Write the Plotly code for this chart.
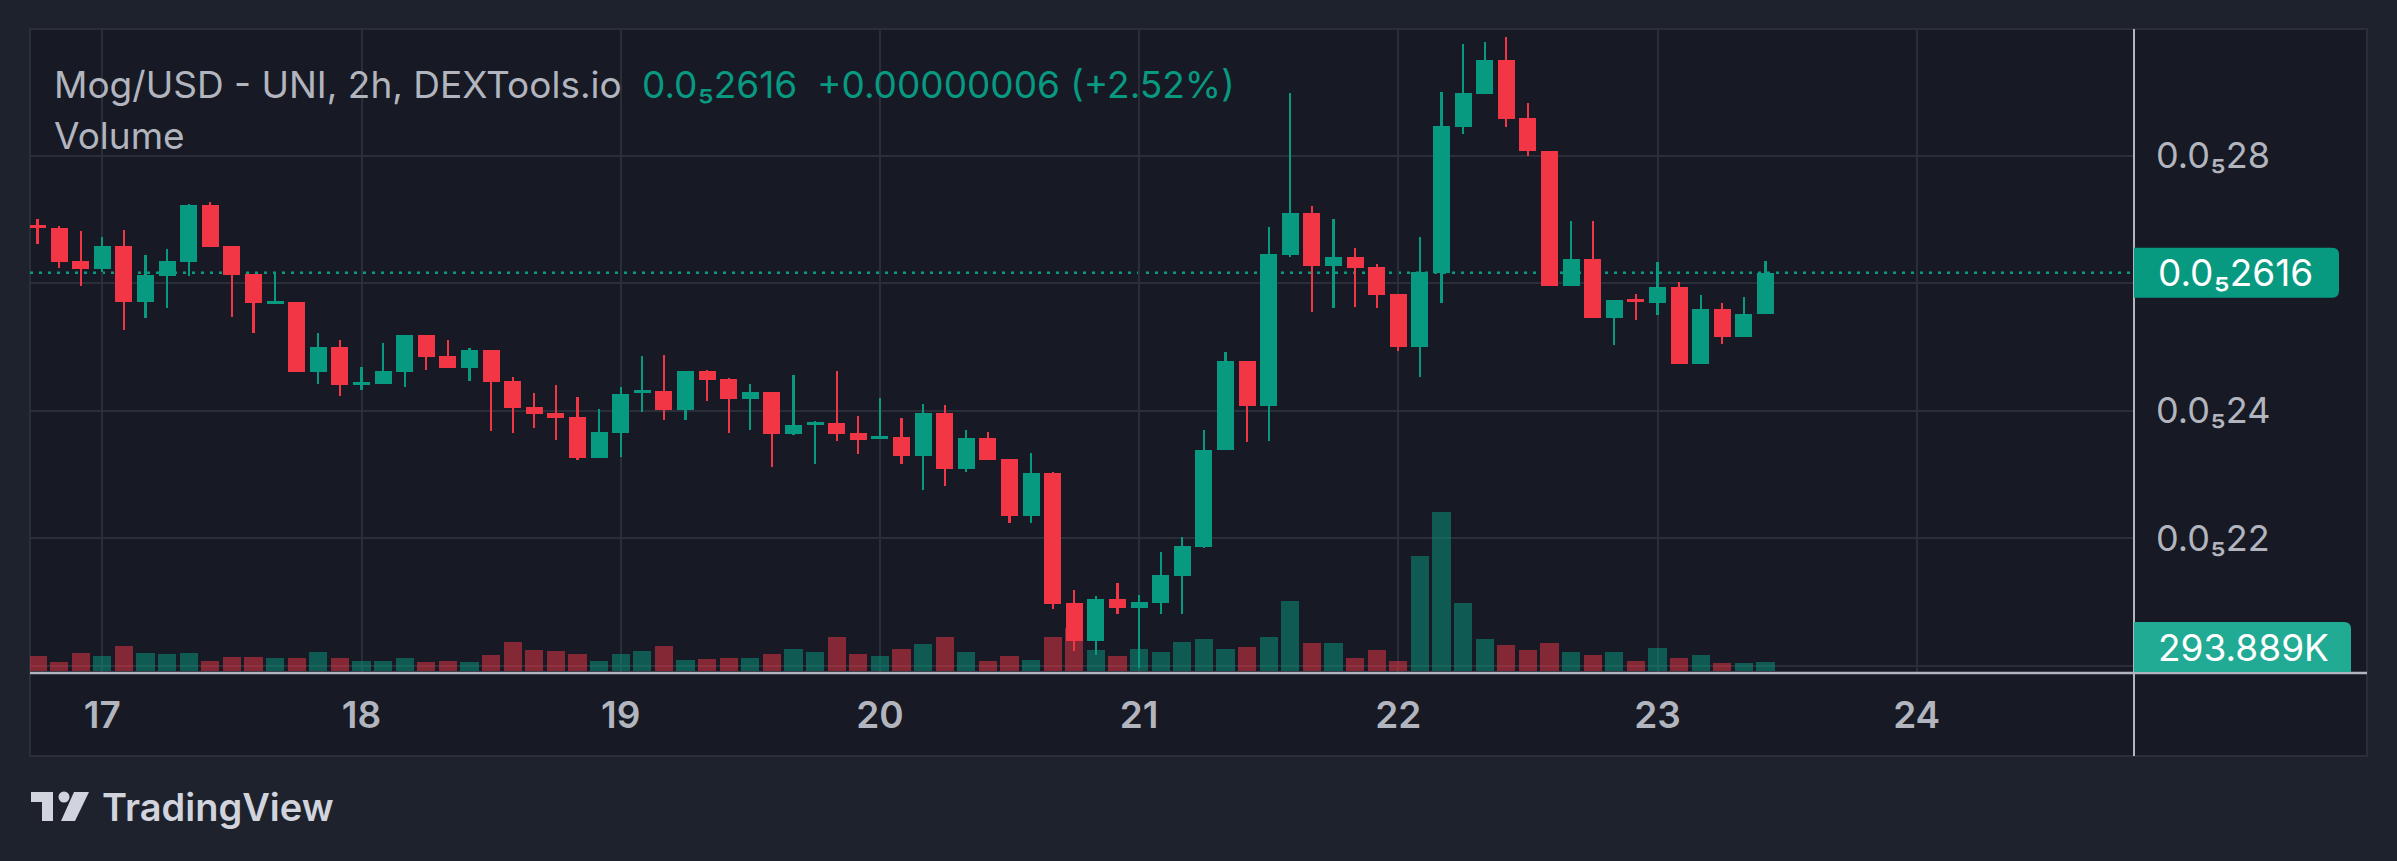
import numpy as np
import pandas as pd
import plotly.graph_objects as go

# ---------------- data (prices in units of 1e-6 USD, volume in thousands) ----------------
start_time = "2024-07-16 18:00"
interval = "2h"
symbol_text = "Mog/USD - UNI, 2h, DEXTools.io"

opens = [2.6905, 2.6858, 2.6345, 2.6220, 2.6580, 2.5707, 2.6115, 2.6334, 2.7224, 2.6580,
         2.6141, 2.5675, 2.5702, 2.4609, 2.4996, 2.4405, 2.4420, 2.4609, 2.5184, 2.4855,
         2.4667, 2.4949, 2.4463, 2.4055, 2.3961, 2.3898, 2.3260, 2.3652, 2.4279, 2.4306,
         2.4013, 2.4620, 2.4494, 2.4180, 2.4290, 2.3636, 2.3777, 2.3804, 2.3647, 2.3558,
         2.3584, 2.3291, 2.3961, 2.3075, 2.3569, 2.3239, 2.2351, 2.3023, 2.0977, 2.0378,
         2.1043, 2.0905, 2.0977, 2.1401, 2.1857, 2.3374, 2.4775, 2.4071, 2.6441, 2.7098,
         2.6267, 2.6408, 2.6251, 2.5827, 2.5002, 2.6155, 2.8447, 2.8968, 2.9496, 2.8591,
         2.8069, 2.5947, 2.6383, 2.5445, 2.5751, 2.5693, 2.5940, 2.4736, 2.5595, 2.5159,
         2.5517]
highs = [2.6999, 2.6894, 2.6816, 2.6722, 2.6831, 2.6439, 2.6533, 2.7239, 2.7271, 2.6580,
         2.6141, 2.6141, 2.5702, 2.5216, 2.5106, 2.4682, 2.5059, 2.5184, 2.5184, 2.5106,
         2.4980, 2.4949, 2.4525, 2.4275, 2.4400, 2.4212, 2.4024, 2.4369, 2.4855, 2.4871,
         2.4620, 2.4635, 2.4510, 2.4416, 2.4290, 2.4557, 2.3835, 2.4620, 2.3914, 2.4196,
         2.3882, 2.4102, 2.4083, 2.3694, 2.3663, 2.3239, 2.3335, 2.3035, 2.1186, 2.1090,
         2.1297, 2.1107, 2.1780, 2.2013, 2.3694, 2.4918, 2.4775, 2.6871, 2.8988, 2.7203,
         2.7001, 2.6552, 2.6298, 2.5827, 2.6722, 2.8995, 2.9749, 2.9782, 2.9860, 2.8825,
         2.8069, 2.6976, 2.6976, 2.5732, 2.5829, 2.6331, 2.6019, 2.5810, 2.5686, 2.5777,
         2.6348]
lows = [2.6616, 2.6240, 2.5953, 2.6177, 2.5263, 2.5456, 2.5613, 2.6115, 2.6569, 2.5471,
        2.5220, 2.5675, 2.4609, 2.4420, 2.4232, 2.4322, 2.4420, 2.4369, 2.4635, 2.4667,
        2.4463, 2.3683, 2.3647, 2.3730, 2.3542, 2.3228, 2.3260, 2.3275, 2.3981, 2.3856,
        2.3856, 2.4154, 2.3647, 2.3699, 2.3118, 2.3620, 2.3166, 2.3526, 2.3322, 2.3558,
        2.3166, 2.2758, 2.2820, 2.3029, 2.3231, 2.2235, 2.2235, 2.0880, 2.0235, 2.0169,
        2.0814, 1.9954, 2.0802, 2.0814, 2.1843, 2.3374, 2.3504, 2.3523, 2.6403, 2.5542,
        2.5602, 2.5620, 2.5608, 2.4936, 2.4533, 2.5693, 2.8344, 2.8968, 2.8441, 2.7998,
        2.5947, 2.5947, 2.5445, 2.5035, 2.5426, 2.5504, 2.4736, 2.4736, 2.5048, 2.5159,
        2.5517]
closes = [2.6874, 2.6334, 2.6220, 2.6580, 2.5707, 2.6125, 2.6345, 2.7224, 2.6569, 2.6125,
          2.5691, 2.5718, 2.4609, 2.4996, 2.4405, 2.4447, 2.4620, 2.5184, 2.4844, 2.4667,
          2.4949, 2.4452, 2.4039, 2.3950, 2.3887, 2.3260, 2.3663, 2.4259, 2.4322, 2.4013,
          2.4620, 2.4478, 2.4180, 2.4290, 2.3636, 2.3773, 2.3820, 2.3636, 2.3542, 2.3600,
          2.3291, 2.3961, 2.3075, 2.3569, 2.3231, 2.2351, 2.3023, 2.0965, 2.0378, 2.1043,
          2.0905, 2.0996, 2.1420, 2.1875, 2.3380, 2.4775, 2.4071, 2.6455, 2.7098, 2.6267,
          2.6408, 2.6235, 2.5816, 2.5002, 2.6174, 2.8460, 2.8982, 2.9496, 2.8577, 2.8063,
          2.5947, 2.6383, 2.5445, 2.5732, 2.5705, 2.5940, 2.4736, 2.5595, 2.5159, 2.5517,
          2.6160]
volumes_k = [490, 294, 588, 490, 816, 588, 555, 588, 327, 457,
             457, 424, 424, 620, 424, 327, 327, 424, 294, 327,
             294, 522, 947, 686, 653, 555, 327, 555, 653, 816,
             359, 392, 424, 424, 555, 718, 620, 1110, 555, 490,
             718, 882, 1110, 620, 327, 490, 359, 1110, 1404, 686,
             490, 718, 620, 947, 1045, 718, 784, 1110, 2286, 914,
             914, 424, 686, 327, 3755, 5191, 2220, 1045, 849, 686,
             914, 620, 522, 620, 327, 751, 424, 522, 261, 261,
             293.889]

day_tick_dates = ["2024-07-17", "2024-07-18", "2024-07-19", "2024-07-20",
                  "2024-07-21", "2024-07-22", "2024-07-23", "2024-07-24"]
day_tick_labels = ["17", "18", "19", "20", "21", "22", "23", "24"]
price_tick_vals = [2.0, 2.2, 2.4, 2.6, 2.8]
# labels at 2.0 and 2.6 are covered by the volume / last-price badges in the original
hidden_tick_vals = [2.0, 2.6]

# ---------------- derived ----------------
t = pd.date_range(start_time, periods=len(opens), freq=interval)
o, h, l, c = (np.array(a) for a in (opens, highs, lows, closes))
v = np.array(volumes_k)
up = c >= o

UP = "#089981"
DN = "#F23645"
cand_col = np.where(up, UP, DN)
vol_col = np.where(up, "rgba(8,153,129,0.5)", "rgba(242,54,69,0.5)")

step_ms = 2 * 3600 * 1000
body_w = 0.79 * step_ms
wick_w = 0.105 * step_ms
vol_w = 0.84 * step_ms
body_h = np.maximum(np.abs(c - o), 0.0018)


def sub_fmt(p, digits):
    # 0.0000026 -> 0.0₅26 (p given in 1e-6 units)
    s = f"{p:.{digits}f}".replace(".", "")
    return "0.0\u2085" + s


# layout geometry (pixels)
W, H = 2397, 861
L, R, T, B = 30, 2134, 29, 672
PW, PH = R - L, B - T


def px(x):
    return (x - L) / PW


def py(y):
    return (B - y) / PH


y_lo = 2.6 - (B - 283) / 637.5
y_hi = 2.6 + (283 - T) / 637.5
vol_per_px = v[-1] / 9.0
v_lo = -1 * vol_per_px
v_hi = (671 - T) * vol_per_px

xr0 = pd.Timestamp("2024-07-17") + pd.Timedelta(days=(L - 102.3) / 259.2)
xr1 = pd.Timestamp("2024-07-17") + pd.Timedelta(days=(R - 102.3) / 259.2)

fig = go.Figure()
fig.add_trace(go.Bar(x=t, y=v, width=vol_w, marker=dict(color=vol_col, line_width=0),
                     yaxis="y", hoverinfo="skip", name="Volume"))
fig.add_trace(go.Bar(x=t, y=h - l, base=l, width=wick_w, marker=dict(color=cand_col, line_width=0),
                     yaxis="y2", hoverinfo="skip", name="wick"))
fig.add_trace(go.Bar(x=t, y=body_h, base=np.minimum(o, c), width=body_w,
                     marker=dict(color=cand_col, line_width=0),
                     yaxis="y2", name="Mog/USD",
                     customdata=np.stack([o, h, l, c], axis=1),
                     hovertemplate="O %{customdata[0]}<br>H %{customdata[1]}<br>L %{customdata[2]}<br>C %{customdata[3]}<extra></extra>"))

GRID = "#2a2e39"
TXT = "#b2b5be"
SEP = "#b2b5be"
PANEL = "#171a25"
OUTER = "#1e222d"
FONT = "Inter"

shapes = []
# panel background
shapes.append(dict(type="rect", xref="paper", yref="paper", x0=px(30), x1=px(2367), y0=py(756), y1=py(29),
                   fillcolor=PANEL, line=dict(color=GRID, width=2), layer="below"))
# last price dotted line
shapes.append(dict(type="line", xref="paper", yref="y2", x0=0, x1=1, y0=c[-1], y1=c[-1],
                   line=dict(color=UP, width=2.5, dash="3px,6px"), layer="below"))
# separators
shapes.append(dict(type="line", xref="paper", yref="paper", x0=1, x1=1, y0=py(756), y1=py(29),
                   line=dict(color=SEP, width=2), layer="above"))
shapes.append(dict(type="line", xref="paper", yref="paper", x0=0, x1=px(2367), y0=py(673), y1=py(673),
                   line=dict(color=SEP, width=2.5), layer="above"))
# price badge (rounded right corners) centred on last close
dy = 25 / 637.5
xa, xb = px(2134), px(2339)
rx = 7 / PW
ry = 7 / 637.5
y0b, y1b = c[-1] - dy, c[-1] + dy
path = (f"M {xa},{y0b} L {xb - rx},{y0b} Q {xb},{y0b} {xb},{y0b + ry} "
        f"L {xb},{y1b - ry} Q {xb},{y1b} {xb - rx},{y1b} L {xa},{y1b} Z")
shapes.append(dict(type="path", xref="paper", yref="y2", path=path, fillcolor=UP, line_width=0, layer="above"))
# volume badge
xa2, xb2 = px(2134), px(2351)
ya2, yb2 = py(672), py(622)
ryp = 7 / PH
path2 = (f"M {xa2},{ya2} L {xb2},{ya2} L {xb2},{yb2 - ryp} Q {xb2},{yb2} {xb2 - rx},{yb2} "
         f"L {xa2},{yb2} Z")
shapes.append(dict(type="path", xref="paper", yref="paper", path=path2, fillcolor="#22ab94",
                   line_width=0, layer="above"))
# TradingView logo
LOGO = "#d1d4dc"
shapes.append(dict(type="rect", xref="paper", yref="paper", x0=px(31), x1=px(53), y0=py(802), y1=py(792),
                   fillcolor=LOGO, line_width=0, layer="above"))
shapes.append(dict(type="rect", xref="paper", yref="paper", x0=px(42), x1=px(53), y0=py(821), y1=py(792),
                   fillcolor=LOGO, line_width=0, layer="above"))
shapes.append(dict(type="circle", xref="paper", yref="paper", x0=px(58.5), x1=px(69.5), y0=py(802.5), y1=py(791.5),
                   fillcolor=LOGO, line_width=0, layer="above"))
shapes.append(dict(type="path", xref="paper", yref="paper",
                   path=f"M {px(74)},{py(792)} L {px(89)},{py(792)} L {px(75)},{py(821)} L {px(61)},{py(821)} Z",
                   fillcolor=LOGO, line_width=0, layer="above"))

chg = c[-1] - c[-2]
pct = chg / c[-2] * 100
HDR = 37
annotations = [
    dict(text=symbol_text, x=px(52), y=py(84), font=dict(color=TXT, size=HDR)),
    dict(text=sub_fmt(c[-1], 3), x=px(640), y=py(84), font=dict(color=UP, size=HDR)),
    dict(text=f"{'+' if chg >= 0 else '-'}{abs(chg) * 1e-6:.8f} ({pct:+.2f}%)", x=px(815), y=py(84),
         font=dict(color=UP, size=HDR)),
    dict(text="Volume", x=px(52), y=py(135), font=dict(color=TXT, size=HDR)),
    dict(text=sub_fmt(c[-1], 3), x=px(2156), y=c[-1], yref="y2", font=dict(color="#ffffff", size=37)),
    dict(text=f"{v[-1]:.3f}K", x=px(2156), y=py(647), font=dict(color="#ffffff", size=37)),
    dict(text="TradingView", x=px(100), y=py(807), font=dict(color=LOGO, size=38, weight=600)),
]
for a in annotations:
    a.setdefault("xref", "paper")
    a.setdefault("yref", "paper")
    a.update(xanchor="left", yanchor="middle", showarrow=False)
    a["font"].setdefault("family", FONT)

fig.update_layout(
    width=W, height=H,
    margin=dict(l=L, r=W - R, t=T, b=H - B, pad=0),
    paper_bgcolor=OUTER, plot_bgcolor=PANEL,
    barmode="overlay", bargap=0,
    showlegend=False,
    font=dict(family=FONT, color=TXT),
    xaxis=dict(type="date", range=[xr0, xr1], tickvals=day_tick_dates, ticktext=day_tick_labels,
               showgrid=True, gridcolor=GRID, gridwidth=2, zeroline=False, showline=False,
               ticks="", tickfont=dict(size=37, color=TXT, weight=600, family=FONT),
               ticklabelstandoff=18, fixedrange=True),
    yaxis=dict(range=[v_lo, v_hi], visible=False, fixedrange=True),
    yaxis2=dict(overlaying="y", side="right", range=[y_lo, y_hi], tickvals=price_tick_vals,
                ticktext=["" if p in hidden_tick_vals else sub_fmt(p, 1) for p in price_tick_vals],
                showgrid=True, gridcolor=GRID, gridwidth=2, zeroline=False, showline=False,
                ticks="", tickfont=dict(size=36, color=TXT, family=FONT),
                ticklabelstandoff=21, fixedrange=True),
    shapes=shapes,
    annotations=annotations,
)

fig.write_html("out.html")
